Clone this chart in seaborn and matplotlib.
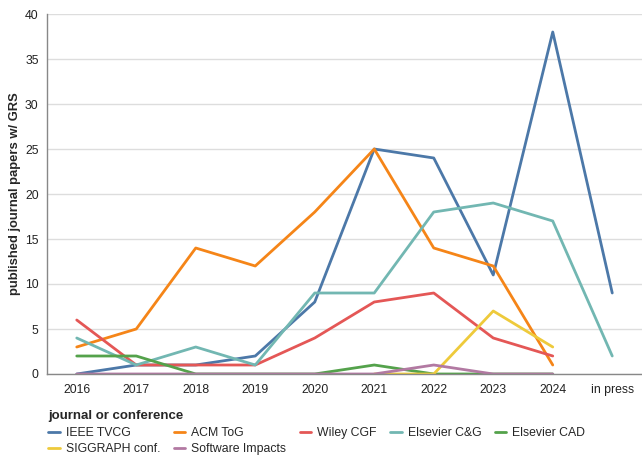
import numpy as np
import pandas as pd
import seaborn as sns
import matplotlib
matplotlib.use("Agg")
import matplotlib.pyplot as plt
from matplotlib.lines import Line2D

years = ["2016", "2017", "2018", "2019", "2020", "2021", "2022", "2023", "2024", "in press"]
nan = np.nan
ieee_tvcg = [0, 1, 1, 2, 8, 25, 24, 11, 38, 9]
acm_tog = [3, 5, 14, 12, 18, 25, 14, 12, 1, nan]
wiley_cgf = [6, 1, 1, 1, 4, 8, 9, 4, 2, nan]
elsevier_cg = [4, 1, 3, 1, 9, 9, 18, 19, 17, 2]
elsevier_cad = [2, 2, 0, 0, 0, 1, 0, 0, 0, nan]
siggraph = [nan, nan, nan, nan, nan, 0, 0, 7, 3, nan]
software_impacts = [0, 0, 0, 0, 0, 0, 1, 0, 0, nan]

series_names = ["IEEE TVCG", "ACM ToG", "Wiley CGF", "Elsevier C&G", "Elsevier CAD",
                "SIGGRAPH conf.", "Software Impacts"]
series_vals = [ieee_tvcg, acm_tog, wiley_cgf, elsevier_cg, elsevier_cad, siggraph, software_impacts]
colors = ["#4c78a8", "#f58518", "#e45756", "#72b7b2", "#54a24b", "#eeca3b", "#b279a2"]

rows = []
for name, vals in zip(series_names, series_vals):
    for i, (y, v) in enumerate(zip(years, vals)):
        rows.append({"year": y, "pos": i, "venue": name, "count": v})
df = pd.DataFrame(rows)

sns.set_style("white")
plt.rcParams['font.family'] = ['Liberation Sans', 'DejaVu Sans']

fig = plt.figure(figsize=(6.42, 4.58), dpi=100)
ax = fig.add_axes([47/642, 1 - 374/458, 595/642, 360/458])

sns.lineplot(data=df.dropna(), x="pos", y="count", hue="venue", hue_order=series_names,
             palette=colors, linewidth=2, ax=ax, legend=False, sort=True)

ax.set_xlim(-0.5, 9.5)
ax.set_ylim(0, 40)
ax.set_xticks(range(len(years)))
ax.set_xticklabels(years)
ax.set_yticks(range(0, 41, 5))
ax.tick_params(axis='x', length=0, labelsize=8.8, pad=7)
ax.tick_params(axis='y', length=4, width=0.8, color="#888888", labelsize=8.8, pad=2)
for lab in ax.get_yticklabels() + ax.get_xticklabels():
    lab.set_color("#222222")
ax.yaxis.grid(True, color="#dddddd", linewidth=1)
ax.xaxis.grid(False)
ax.set_axisbelow(True)
for s in ["top", "right"]:
    ax.spines[s].set_visible(False)
for s in ["left", "bottom"]:
    ax.spines[s].set_color("#888888")
    ax.spines[s].set_linewidth(1)
ax.set_xlabel("")
ax.set_ylabel("published journal papers w/ GRS", fontsize=9.4, fontweight="bold", labelpad=3)

handles = {n: Line2D([0], [0], color=c, linewidth=2) for n, c in zip(series_names, colors)}
order = ["IEEE TVCG", "SIGGRAPH conf.", "ACM ToG", "Software Impacts", "Wiley CGF",
         "Elsevier C&G", "Elsevier CAD"]
leg = fig.legend([handles[n] for n in order], order, ncol=5,
                 loc="upper left", bbox_to_anchor=(41/642, 1 - 403/458),
                 frameon=False, fontsize=8.8, title="journal or conference",
                 title_fontproperties={"weight": "bold", "size": 9.5},
                 alignment="left", handlelength=0.95, handletextpad=0.5,
                 columnspacing=1.08, labelspacing=0.35, borderpad=0.1)
leg._legend_box.sep = 3.3

fig.savefig("out.png", dpi=100)
